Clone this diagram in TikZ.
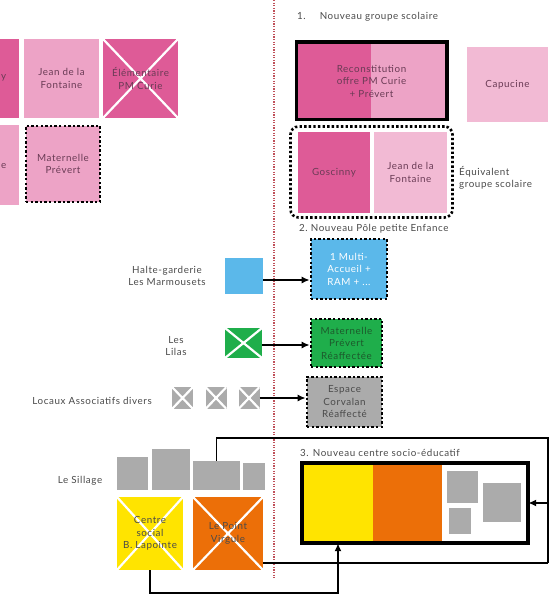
\documentclass[tikz,border=0pt]{standalone}
\usepackage{fontspec}
\setmainfont[LetterSpace=6.0]{Lato}
\usetikzlibrary{arrows.meta}
\definecolor{pinkD}{HTML}{DE5B97}
\definecolor{pinkL}{HTML}{EDA3C6}
\definecolor{pinkXL}{HTML}{F2BAD4}
\definecolor{blueB}{HTML}{5BB8EA}
\definecolor{greenB}{HTML}{1FAE4B}
\definecolor{grayB}{HTML}{ABABAB}
\definecolor{yellowB}{HTML}{FFE400}
\definecolor{orangeB}{HTML}{EC6F08}
\definecolor{txt}{HTML}{4A4A4A}
\definecolor{pinktxt}{HTML}{6A3B55}
\definecolor{greentxt}{HTML}{1D5A2C}
\definecolor{reddot}{HTML}{C0505A}
\begin{document}
\begin{tikzpicture}[x=1pt,y=-1pt,
  lbl/.style={inner sep=0pt, align=center, text=txt, font=\fontsize{9.8}{12.5}\selectfont},
  rbox/.style 2 args={draw=none, inner sep=0pt, align=center, font=\fontsize{9.8}{12.5}\selectfont, minimum width=#1, minimum height=#2},
  dotbox/.style={draw=black, line width=2.6pt, dash pattern=on 2.4pt off 2.2pt},
  crossed/.style={path picture={\draw[white, line width=2.2pt]
      (path picture bounding box.north west) -- (path picture bounding box.south east)
      (path picture bounding box.north east) -- (path picture bounding box.south west);}},
  conn/.style={draw=black, line width=1.6pt},
  arr/.style={conn, -{Latex[length=8pt,width=7pt]}},
  thickbox/.style={draw=black, line width=3.6pt}
]
\useasboundingbox (0,0) rectangle (549,596);

% red dotted separator
\coordinate (rtop) at (274,0);
\coordinate (rbot) at (274,578);
\draw[reddot, line width=1.3pt, dash pattern=on 1.2pt off 1.4pt] (rtop) -- (rbot);

% ---------- left top (existing schools) ----------
\node[rbox={75}{79}, fill=pinkD] (gosL) at (-18.5,78.5) {};
\node[lbl, text=pinktxt, anchor=west] (gosLt) at (1,78) {y};
\node[rbox={75}{80}, fill=pinkL] (capL) at (-18.5,165) {};
\node[lbl, text=pinktxt, anchor=west] (capLt) at (1,166) {e};
\node[rbox={75}{79}, fill=pinkL, text=pinktxt] (jean1) at (61.5,78.5) {Jean de la\\Fontaine};
\node[rbox={75}{79}, fill=pinkD, text=pinktxt, crossed] (elem) at (140.5,78.5) {Élémentaire\\PM Curie};
\node[rbox={74}{76}, fill=pinkL, text=pinktxt, dotbox] (mat1) at (63,164) {Maternelle\\Prévert};

% ---------- 1. Nouveau groupe scolaire ----------
\node[lbl, anchor=west] (t1) at (297,17) {1.\hspace{14pt}Nouveau groupe scolaire};
\node[rbox={150}{77}, fill=pinkL, text=pinktxt,
  path picture={\fill[pinkD] (path picture bounding box.north west) rectangle ([xshift=74pt]path picture bounding box.south west);}]
  (recon) at (371.5,81) {Reconstitution\\offre PM Curie\\+ Prévert};
\draw[thickbox] (recon.north west) rectangle (recon.south east);
\node[rbox={81}{75}, fill=pinkXL, text=pinktxt] (capR) at (507.5,84.5) {Capucine};
\node[rbox={72}{81}, fill=pinkD, text=pinktxt] (gosR) at (334,172.5) {Goscinny};
\node[rbox={73}{81}, fill=pinkXL, text=pinktxt] (jean2) at (410.5,172.5) {Jean de la\\Fontaine};
\node[rbox={162}{91}, dotbox, rounded corners=8pt] (grp) at (371.5,172) {};
\node[lbl, align=left, anchor=west] (equiv) at (459,178) {Équivalent\\groupe scolaire};

% ---------- 2. Nouveau Pole petite Enfance ----------
\node[lbl, anchor=west] (t2) at (299,229) {2.\ Nouveau Pôle petite Enfance};
\node[rbox={38}{36}, fill=blueB] (halte) at (244,276) {};
\node[lbl] (haltet) at (167,276) {Halte-garderie\\Les Marmousets};
\node[rbox={76}{60}, fill=blueB, text=white, dotbox] (multi) at (349,269) {1 Multi-\\Accueil +\\RAM + ...};
\coordinate (ha) at ([yshift=-4pt]halte.east);
\draw[arr] (ha) -- (multi.west |- ha);

\node[rbox={37}{30}, fill=greenB, crossed] (lilas) at (243.5,343) {};
\node[lbl] (lilast) at (176,346) {Les\\Lilas};
\node[rbox={71}{48}, fill=greenB, text=greentxt, dotbox] (matR) at (346.5,343) {Maternelle\\Prévert\\Réaffectée};
\coordinate (la) at ([yshift=-2pt]lilas.east);
\draw[arr] (la) -- (matR.west |- la);

\node[rbox={21}{22}, fill=grayB, crossed] (g1) at (182.5,398) {};
\node[rbox={21}{22}, fill=grayB, crossed] (g2) at (216,398) {};
\node[rbox={21}{22}, fill=grayB, crossed] (g3) at (249,398) {};
\node[lbl, anchor=east] (locaux) at (152,401) {Locaux Associatifs divers};
\node[rbox={75}{50}, fill=grayB, text=txt, dotbox] (espace) at (344.5,402) {Espace\\Corvalan\\Réaffecté};
\draw[arr] (g3.east) -- (espace.west |- g3.east);

% ---------- bottom left ----------
\node[lbl] (sillage) at (80,481) {Le Sillage};
\node[rbox={31}{33}, fill=grayB] (s1) at (132.5,473.5) {};
\node[rbox={38}{41}, fill=grayB] (s2) at (171,469.5) {};
\node[rbox={47}{29}, fill=grayB] (s3) at (216.5,475.5) {};
\node[rbox={22}{27}, fill=grayB] (s4) at (254,476.5) {};
\node[rbox={66}{73}, fill=yellowB, text=txt, crossed] (centre) at (150,533.5) {Centre\\social\\B. Lapointe};
\node[rbox={70}{73}, fill=orangeB, text=txt, crossed] (pv) at (228,533.5) {Le Point\\Virgule};

% ---------- 3. Nouveau centre socio-educatif ----------
\node[lbl, anchor=west] (t3) at (300,453) {3. Nouveau centre socio-éducatif};
\node[rbox={226}{80}, fill=white] (ncse) at (415,503) {};
\fill[yellowB] (ncse.north west) rectangle ([xshift=71pt]ncse.south west);
\fill[orangeB] ([xshift=71pt]ncse.north west) rectangle ([xshift=140pt]ncse.south west);
\node[rbox={31}{32}, fill=grayB] (n1) at (462.5,487) {};
\node[rbox={22}{26}, fill=grayB] (n2) at (460,521) {};
\node[rbox={38}{39}, fill=grayB] (n3) at (502,502.5) {};
\draw[thickbox] (ncse.north west) rectangle (ncse.south east);

% connectors
\coordinate (rt) at (548,438);
\coordinate (rb) at (548,563);
\coordinate (ra) at (549,503);
\coordinate (cb) at (338,593);
\draw[conn] (s3.north) |- (rt) -- (rb);
\draw[conn] (pv.east |- rb) -- (rb);
\draw[arr] (ra) -- (ncse.east);
\draw[arr] (centre.south) |- (cb) -- (cb |- ncse.south);
\end{tikzpicture}
\end{document}
